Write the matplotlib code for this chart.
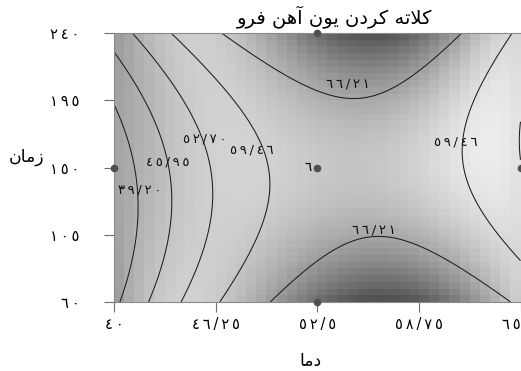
import numpy as np
import matplotlib
matplotlib.use("Agg")
import matplotlib.pyplot as plt

plt.rcParams['font.family'] = ['DejaVu Sans']

# ---- data ----
title = "کلاته کردن یون آهن فرو"
xlabel = "دما"
ylabel = "زمان"

x_ticks = [40, 46.25, 52.5, 58.75, 65]
y_ticks = [60, 105, 150, 195, 240]

# fitted second order model (coded units u, v in [-1, 1])
# Z = b0 + b1*u + b2*v + b11*u^2 + b22*v^2 + b12*u*v
b0, b1, b2 = 62.75, 9.12, 1.09
b11, b22, b12 = -19.0, 8.73, -4.56

levels = [39.20, 45.95, 52.70, 59.46, 66.21]

# background shading, grey level read along three rows (v = +1, 0, -1)
gray_u = [-1, -0.75, -0.5, -0.25, 0, 0.25, 0.5, 0.75, 1]
gray_top = [152, 195, 207, 162, 108, 85, 100, 178, 212]
gray_mid = [163, 192, 205, 212, 200, 197, 210, 232, 222]
gray_bot = [152, 200, 208, 158, 105, 82, 85, 140, 207]

# design points
pts_x = [40, 52.5, 52.5, 52.5, 65]
pts_y = [150, 240, 150, 60, 150]
center_reps = 6

THIN = '\u2009'


def fa(s):
    s = s.translate(str.maketrans('0123456789.', '٠١٢٣٤٥٦٧٨٩/'))
    return THIN.join(s)


# presentation forms: isolated, final, initial, medial
FORMS = {
    'ا': ('\uFE8D', '\uFE8E', None, None),
    'آ': ('\uFE81', '\uFE82', None, None),
    'د': ('\uFEA9', '\uFEAA', None, None),
    'ر': ('\uFEAD', '\uFEAE', None, None),
    'ز': ('\uFEAF', '\uFEB0', None, None),
    'و': ('\uFEED', '\uFEEE', None, None),
    'ت': ('\uFE95', '\uFE96', '\uFE97', '\uFE98'),
    'ف': ('\uFED1', '\uFED2', '\uFED3', '\uFED4'),
    'ل': ('\uFEDD', '\uFEDE', '\uFEDF', '\uFEE0'),
    'م': ('\uFEE1', '\uFEE2', '\uFEE3', '\uFEE4'),
    'ن': ('\uFEE5', '\uFEE6', '\uFEE7', '\uFEE8'),
    'ه': ('\uFEE9', '\uFEEA', '\uFEEB', '\uFEEC'),
    'ک': ('\uFB8E', '\uFB8F', '\uFB90', '\uFB91'),
    'ی': ('\uFBFC', '\uFBFD', '\uFBFE', '\uFBFF'),
}
LAMALEF = {'ا': ('\uFEFB', '\uFEFC'), 'آ': ('\uFEF5', '\uFEF6')}


def shape(text):
    out = []
    i = 0
    n = len(text)
    while i < n:
        ch = text[i]
        if ch not in FORMS:
            out.append(ch)
            i += 1
            continue
        prev = text[i - 1] if i > 0 else ''
        join_prev = prev in FORMS and FORMS[prev][2] is not None
        if ch == 'ل' and i + 1 < n and text[i + 1] in LAMALEF:
            out.append(LAMALEF[text[i + 1]][1 if join_prev else 0])
            i += 2
            continue
        nxt = text[i + 1] if i + 1 < n else ''
        join_next = nxt in FORMS and FORMS[ch][2] is not None
        iso, fin, ini, med = FORMS[ch]
        if join_prev and join_next:
            out.append(med)
        elif join_prev:
            out.append(fin)
        elif join_next:
            out.append(ini)
        else:
            out.append(iso)
        i += 1
    return ''.join(out)[::-1]


fig = plt.figure(figsize=(5.21, 3.71), dpi=100)
ax = fig.add_axes([114 / 521, 69 / 371, 406.5 / 521, 269 / 371])

# shaded background
ncell = 40
xe = np.linspace(40, 65, ncell + 1)
ye = np.linspace(60, 240, ncell + 1)
uc = ((xe[:-1] + xe[1:]) / 2 - 52.5) / 12.5
vc = ((ye[:-1] + ye[1:]) / 2 - 150) / 90
top = np.polyval(np.polyfit(gray_u, gray_top, 5), uc)
mid = np.polyval(np.polyfit(gray_u, gray_mid, 5), uc)
bot = np.polyval(np.polyfit(gray_u, gray_bot, 5), uc)
V = vc[:, None]
G = mid + (top - bot) / 2 * V + ((top + bot) / 2 - mid) * V ** 2
G = np.clip(G, 0, 255)
ax.pcolormesh(xe, ye, G, cmap='gray', vmin=0, vmax=255, shading='flat')

# contours of the model
xs = np.linspace(40, 65, 300)
ys = np.linspace(60, 240, 300)
X, Y = np.meshgrid(xs, ys)
U = (X - 52.5) / 12.5
W = (Y - 150) / 90
Z = b0 + b1 * U + b2 * W + b11 * U ** 2 + b22 * W ** 2 + b12 * U * W
ax.contour(X, Y, Z, levels=levels, colors='#1e1e1e', linewidths=0.75)

# contour labels (placed by hand like the original)
lab_pos = [(41.6, 135), (43.3, 154), (45.6, 169), (48.5, 162),
           (61.0, 167), (54.4, 206), (56.0, 108.5)]
lab_lev = [0, 1, 2, 3, 3, 4, 4]
for (px, py), k in zip(lab_pos, lab_lev):
    ax.text(px, py, fa('%.2f' % levels[k]), ha='center', va='center',
            fontsize=9.5, color='#111111')

ax.plot(pts_x, pts_y, 'o', color='#505050', ms=4.5, clip_on=False, zorder=5)
ax.annotate(fa(str(center_reps)), (pts_x[2], pts_y[2]), xytext=(-4, 0),
            textcoords='offset points', ha='right', va='center', fontsize=9.5)

ax.set_xlim(40, 65)
ax.set_ylim(60, 240)
ax.set_xticks(x_ticks)
ax.set_xticklabels([fa('%g' % t) for t in x_ticks])
ax.set_yticks(y_ticks)
ax.set_yticklabels([fa('%g' % t) for t in y_ticks])
ax.tick_params(axis='both', length=7, width=0.8, color='#6e6e6e', labelsize=10.5)
ax.tick_params(axis='y', pad=18)
ax.tick_params(axis='x', pad=4)
ax.get_xticklabels()[-1].set_ha('right')
ax.spines['right'].set_visible(False)
for s in ['left', 'top', 'bottom']:
    ax.spines[s].set_color('#8a8a8a')
    ax.spines[s].set_linewidth(0.8)

fig.text(335 / 521, 1 - 17 / 371, shape(title), ha='center', va='center', fontsize=14)
fig.text(27 / 521, 1 - 157 / 371, shape(ylabel), ha='center', va='center', fontsize=12.5)
fig.text(310 / 521, 1 - 361 / 371, shape(xlabel), ha='center', va='center', fontsize=12.5)

fig.savefig('out.png', dpi=100)
